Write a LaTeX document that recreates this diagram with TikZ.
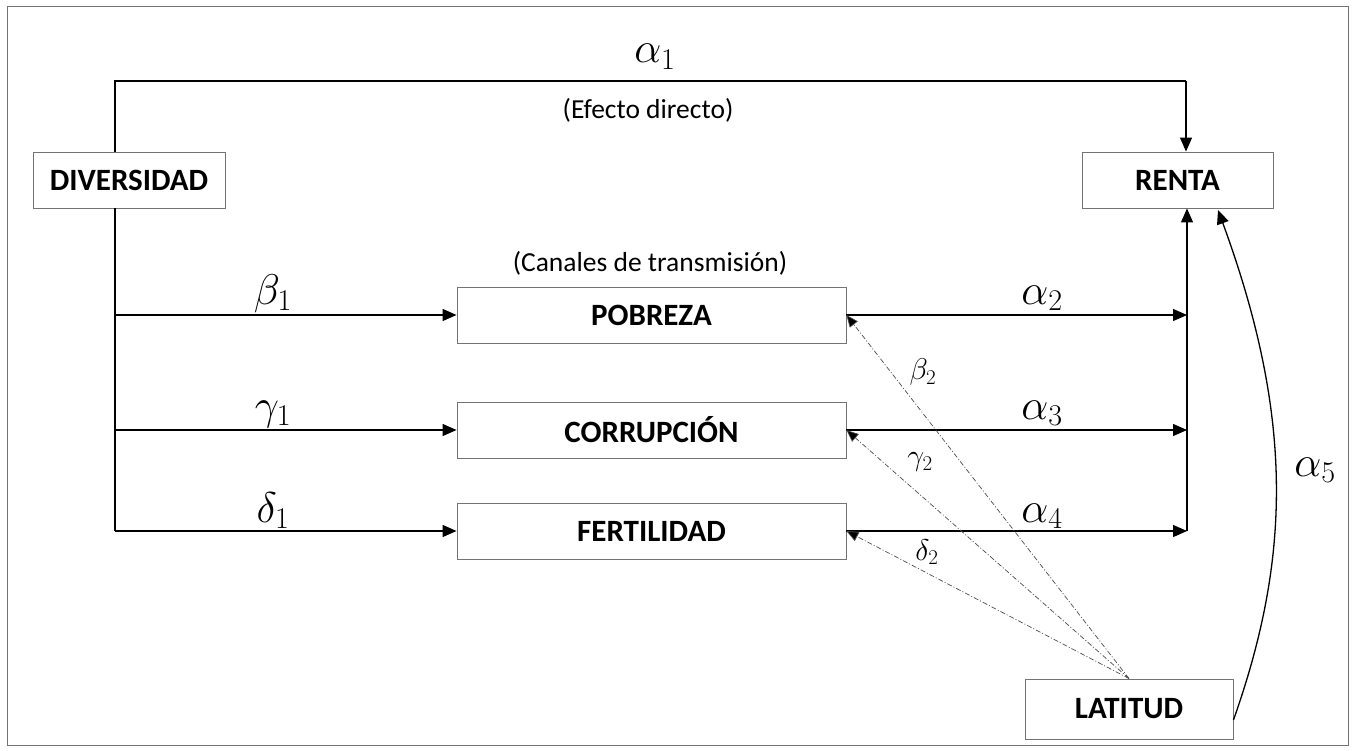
\RequirePackage{fix-cm}
\documentclass[tikz,border=0pt]{standalone}
\usepackage{fontspec}
\setmainfont{Carlito}
\usetikzlibrary{arrows.meta}
\tikzset{
  box/.style={draw=black!55, line width=0.9pt, fill=white, minimum height=56pt, inner sep=0pt, font=\fontsize{31}{36}\selectfont\bfseries},
  lbl/.style={font=\fontsize{27.5}{32}\selectfont, inner sep=0pt},
  greek/.style={font=\fontsize{43}{50}\selectfont, inner sep=0pt, anchor=base},
  sgreek/.style={font=\fontsize{30}{36}\selectfont, inner sep=0pt},
  conn/.style={line width=1.3pt, -{Triangle[length=14pt,width=12pt]}},
  thick line/.style={line width=2.2pt},
  dd/.style={draw=black!70, line width=0.7pt, dash pattern=on 5pt off 2pt on 1pt off 2pt, -{Triangle[length=12pt,width=10pt,fill=black]}},
}
\begin{document}
\begin{tikzpicture}[x=1pt,y=-1pt]
\useasboundingbox (0,0) rectangle (1356,751);
\draw[black!55, line width=1pt] (7,7) rectangle (1348,745);

% nodes
\node[box, minimum width=192pt] (div) at (129,180) {DIVERSIDAD};
\node[box, minimum width=191pt] (renta) at (1177.5,180) {RENTA};
\node[box, minimum width=389pt] (pob) at (651.5,315) {POBREZA};
\node[box, minimum width=389pt] (cor) at (651.5,430) {CORRUPCIÓN};
\node[box, minimum width=389pt] (fer) at (651.5,531) {FERTILIDAD};
\node[box, minimum width=208pt, minimum height=60pt] (lat) at (1129,709) {LATITUD};

% coordinates
\coordinate (tl) at (115,81);
\coordinate (tr) at (1186,81);
\coordinate (lb) at (tl |- fer.west);
\coordinate (rb) at (1187,531);

% direct effect
\draw[thick line] (div.north -| tl) -- (tl) -- (tr);
\draw[conn] (tr) -- (renta.north -| tr);
\draw[thick line] (div.south -| tl) -- (lb);

% left branches
\draw[conn] (tl |- pob.west) -- (pob.west);
\draw[conn] (tl |- cor.west) -- (cor.west);
\draw[conn] (lb) -- (fer.west);

% right branches
\draw[conn] (pob.east) -- (pob.east -| rb);
\draw[conn] (cor.east) -- (cor.east -| rb);
\draw[conn] (fer.east) -- (rb);
\draw[conn] (rb) -- (renta.south -| rb);

% latitude links
\draw[dd] (lat.north) -- (pob.east);
\draw[dd] (lat.north) -- (cor.east);
\draw[dd] (lat.north) -- (fer.east);
\draw[line width=1.3pt, -{Triangle[length=14pt,width=12pt]}] (lat.east) ++(0,11) .. controls (1290,560) and (1295,420) .. (1218,210);

% labels
\node[lbl] (ed) at (648,110) {(Efecto directo)};
\node[lbl] (ct) at (650,263) {(Canales de transmisión)};
\node[greek] (a1) at (655,63) {$\alpha_1$};
\node[greek] (b1) at (273,304) {$\beta_1$};
\node[greek] (g1) at (273,419) {$\gamma_1$};
\node[greek] (d1) at (273,522) {$\delta_1$};
\node[greek] (a2) at (1042,304) {$\alpha_2$};
\node[greek] (a3) at (1042,419) {$\alpha_3$};
\node[greek] (a4) at (1042,522) {$\alpha_4$};
\node[greek, anchor=center] (a5) at (1315,470) {$\alpha_5$};
\node[sgreek] (b2) at (923,372) {$\beta_2$};
\node[sgreek] (g2) at (920,462) {$\gamma_2$};
\node[sgreek] (d2) at (927,552) {$\delta_2$};
\end{tikzpicture}
\end{document}
